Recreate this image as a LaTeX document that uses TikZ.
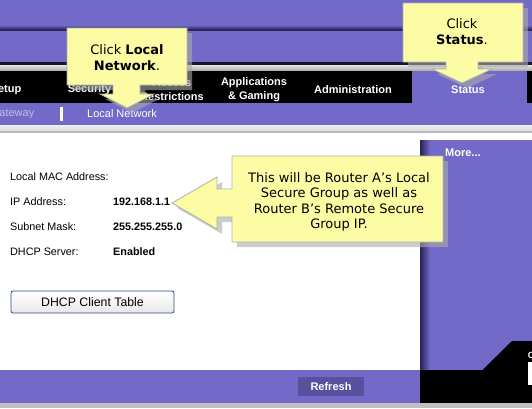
\documentclass[tikz,border=0pt]{standalone}
\usepackage{fontspec}
\setmainfont{Liberation Sans}
\newfontfamily\callfont{DejaVu Sans}
\definecolor{lpurple}{RGB}{115,105,200}
\definecolor{dpurple}{RGB}{88,82,158}
\definecolor{darkline}{RGB}{40,35,90}
\definecolor{cyellow}{RGB}{252,252,164}
\definecolor{cborder}{RGB}{175,175,175}
\definecolor{gwtext}{RGB}{190,190,228}
\definecolor{btnborder}{RGB}{45,75,135}
\definecolor{bottomgray}{RGB}{192,192,192}
\begin{document}
\begin{tikzpicture}[x=1pt,y=-1pt,
  navtext/.style={text=white,font=\fontsize{11}{14}\selectfont\bfseries,align=center,inner sep=0pt},
  lbl/.style={font=\fontsize{10.8}{12}\selectfont,anchor=west,inner sep=0pt},
  val/.style={font=\fontsize{10.8}{12}\selectfont\bfseries,anchor=west,inner sep=0pt},
  calloutshape/.style={fill=cyellow,draw=cborder,line width=0.8pt},
  calloutshadow/.style={fill={rgb,255:red,170;green,170;blue,170},fill opacity=0.6},
  callouttext/.style={font=\callfont\fontsize{13}{15.5}\selectfont,align=center,inner sep=0pt}
]
\useasboundingbox (0,0) rectangle (532,408);
\clip (0,0) rectangle (532,408);
% background
\fill[white] (0,0) rectangle (532,408);
\fill[lpurple] (0,0) rectangle (532,63);
\fill[top color=lpurple, bottom color=darkline] (0,25) rectangle (532,29.5);
\fill[darkline] (0,29.5) rectangle (532,31);
\fill[black!80!lpurple] (0,62) rectangle (532,65);
\fill[top color=gray!20, bottom color=gray!70] (0,65) rectangle (532,71);
\fill[black] (0,71) rectangle (532,103);
\fill[lpurple] (412,71) rectangle (527,103);
\fill[lpurple] (0,103) rectangle (532,125);
\fill[top color=gray!12, bottom color=gray!28] (0,125) rectangle (532,131);
\fill[gray!55] (0,131) rectangle (532,133);
% right panel
\fill[lpurple] (420,140) rectangle (532,370);
\fill[left color=darkline, right color=lpurple] (420,140) rectangle (430,370);
% bottom
\fill[lpurple] (0,370) rectangle (420,403);
\fill[black] (420,370) rectangle (532,403);
\fill[black] (420,370.5) -- (482,370.5) -- (512,341) -- (532,341) -- (532,371) -- (420,371) -- cycle;
\fill[bottomgray] (0,403) rectangle (532,408);
\fill[white] (528,362) rectangle (533,385);
\node[text=white,font=\fontsize{9}{9}\selectfont\bfseries,anchor=west,inner sep=0pt] (logo) at (527.6,355) {C};
% refresh
\node[fill=dpurple,minimum width=66pt,minimum height=19pt,inner sep=0pt,text=white,font=\fontsize{11}{12}\selectfont\bfseries] (refresh) at (331,386.5) {Refresh};
% nav texts
\node[navtext,anchor=east] (setup) at (21.5,90) {Setup};
\node[navtext] (security) at (89.5,90) {Security};
\node[navtext] (access) at (172,90) {Access\\Restrictions};
\node[navtext] (apps) at (254,90) {Applications\\\& Gaming};
\node[navtext] (admin) at (353,90) {Administration};
\node[navtext] (status) at (468,90) {Status};
% subnav
\node[font=\fontsize{11}{12}\selectfont,text=gwtext,anchor=east,inner sep=0pt] (gateway) at (34.5,114) {Gateway};
\fill[white] (60,107) rectangle (63,121);
\node[font=\fontsize{11}{12}\selectfont,text=white,inner sep=0pt] (localnet) at (122,114) {Local Network};
% content
\node[lbl] (l1) at (10,177) {Local MAC Address:};
\node[lbl] (l2) at (10,202) {IP Address:};
\node[lbl] (l3) at (10,227) {Subnet Mask:};
\node[lbl] (l4) at (10,252) {DHCP Server:};
\node[val] (v2) at (113,202) {192.168.1.1};
\node[val] (v3) at (113,227) {255.255.255.0};
\node[val] (v4) at (113,252) {Enabled};
\node[text=white,font=\fontsize{11}{12}\selectfont\bfseries,anchor=west,inner sep=0pt] (more) at (445,153) {More...};
% DHCP button
\node[draw=btnborder,line width=0.8pt,rounded corners=2pt,top color=white,bottom color=gray!18,minimum width=163pt,minimum height=22pt,inner sep=0pt,font=\fontsize{12.3}{13}\selectfont] (dhcp) at (92.5,302) {DHCP Client Table};
% callout shapes
\def\calloutA{(67,28) -- (187,28) -- (187,85) -- (140,85) -- (140,94) -- (154,94) -- (127,108) -- (100,94) -- (113,94) -- (113,85) -- (67,85) -- cycle}
\def\calloutB{(403,3) -- (523,3) -- (523,62) -- (478,62) -- (478,69) -- (492,69) -- (462,83) -- (432,69) -- (446,69) -- (446,62) -- (403,62) -- cycle}
\def\calloutC{(232,156) -- (443,156) -- (443,242) -- (232,242) -- (232,217) -- (217,217) -- (217,229) -- (172,203) -- (217,177) -- (217,189) -- (232,189) -- cycle}
\begin{scope}[shift={(5,5)}]
\fill[calloutshadow] \calloutA;
\fill[calloutshadow] \calloutB;
\fill[calloutshadow] \calloutC;
\end{scope}
\path[calloutshape] \calloutA;
\path[calloutshape] \calloutB;
\path[calloutshape] \calloutC;
\node[callouttext] (t1) at (127,57.5) {Click \textbf{Local}\\\textbf{Network}.};
\node[callouttext] (t2) at (462,31.5) {Click\\\textbf{Status}.};
\node[callouttext] (t3) at (339,202) {This will be Router A’s Local\\Secure Group as well as\\Router B’s Remote Secure\\Group IP.};
\end{tikzpicture}
\end{document}
